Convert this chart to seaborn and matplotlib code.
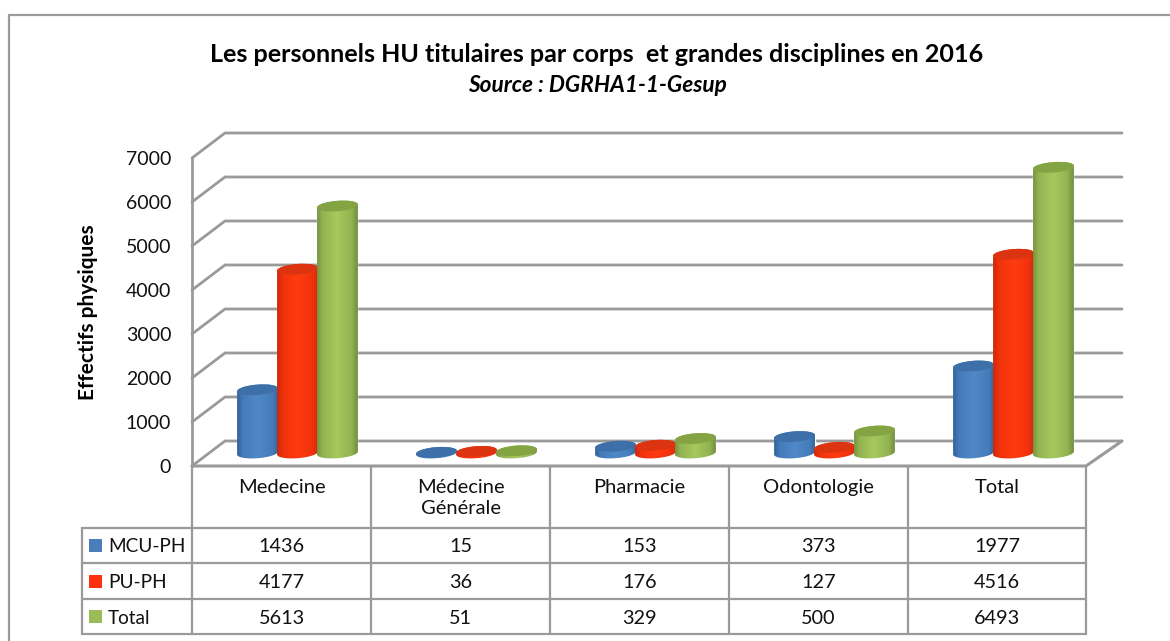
import numpy as np
import matplotlib
matplotlib.use("Agg")
import matplotlib.pyplot as plt
from matplotlib.colors import LinearSegmentedColormap
from matplotlib.patches import Ellipse, Polygon, Rectangle
import pandas as pd
import seaborn as sns

# Valeurs du graphique
categories = ['Medecine', 'Médecine\nGénérale', 'Pharmacie', 'Odontologie', 'Total']
series_names = ['MCU-PH', 'PU-PH', 'Total']
mcu_ph = [1436, 15, 153, 373, 1977]
pu_ph = [4177, 36, 176, 127, 4516]
total = [5613, 51, 329, 500, 6493]
y_ticks = [0, 1000, 2000, 3000, 4000, 5000, 6000, 7000]

title_line1 = 'Les personnels HU titulaires par corps  et grandes disciplines en 2016'
title_line2 = 'Source : DGRHA1-1-Gesup'
y_label = 'Effectifs physiques'

swatch = ['#4A7EBB', '#FF3010', '#9BBB59']
shades = [('#33639B', '#5088C8', '#457BB8', '#3D6FA8'),
          ('#CC2A0A', '#FF3C10', '#F0320C', '#DC3410'),
          ('#728F3E', '#A6C95E', '#92B250', '#84A444')]
line_col = '#9A9A9A'

sns.set_theme(style="white")
plt.rcParams['font.family'] = ['Lato', 'DejaVu Sans']

W, H = 1170, 641
fig = plt.figure(figsize=(W / 100, H / 100), dpi=100, facecolor='white')


def box(x0, y_top, x1, y_bot):
    return [x0 / W, 1 - y_bot / H, (x1 - x0) / W, (y_bot - y_top) / H]


# Mur et plancher : axe de devant, lignes en biais vers le fond
wall = fig.add_axes(box(192, 158, 1086, 466))
wall.set_xlim(192, 1086)
wall.set_ylim(0, 7000)
wall.patch.set_alpha(0)
for s in ['top', 'right', 'bottom']:
    wall.spines[s].set_visible(False)
wall.spines['left'].set_color(line_col)
wall.spines['left'].set_linewidth(2)
wall.set_xticks([])
wall.set_yticks(y_ticks)
wall.tick_params(axis='y', length=0, pad=15, labelsize=14, labelcolor='#111111')
wall.set_ylabel(y_label, fontsize=15, fontweight='bold', color='black', labelpad=0)
wall.yaxis.set_label_coords(-0.105, 0.5)

depth = 25 / 44 * 1000  # 25 px de profondeur, 44 px pour 1000
for t in y_ticks:
    wall.plot([192, 225, 1122], [t, t + depth, t + depth], color=line_col, lw=2,
              clip_on=False, solid_joinstyle='miter', zorder=1)
wall.plot([192, 1086, 1122], [0, 0, depth], color=line_col, lw=2.2, clip_on=False, zorder=1)

# Barres : seaborn, puis habillage en cylindres
df = pd.DataFrame({'categorie': categories * 3,
                   'serie': np.repeat(series_names, len(categories)),
                   'valeur': mcu_ph + pu_ph + total})
ax = fig.add_axes(box(208, 145, 1103, 453))
sns.barplot(data=df, x='categorie', y='valeur', hue='serie', hue_order=series_names,
            order=categories, palette=swatch, width=0.67, gap=0, legend=False, ax=ax)
ax.set_xlim(-0.5, 4.5)
ax.set_ylim(0, 7000)
ax.axis('off')

# Calque en pixels pour les ellipses et le tableau
px = fig.add_axes([0, 0, 1, 1])
px.set_xlim(0, W)
px.set_ylim(H, 0)
px.axis('off')
px.patch.set_alpha(0)

fig.canvas.draw()
tilt = -4.5
for bars, (dark, bright, base_mid, top_col) in zip(ax.containers, shades):
    cmap = LinearSegmentedColormap.from_list('cyl', [(0, dark), (0.14, base_mid), (0.5, bright),
                                                     (0.86, base_mid), (1, dark)])
    for bar in bars:
        (x0, yb), (x1, yt) = ax.transData.transform([(bar.get_x(), 0),
                                                     (bar.get_x() + bar.get_width(), bar.get_height())])
        yb, yt = H - yb, H - yt
        cx, a, b = (x0 + x1) / 2, (x1 - x0) / 2 + 0.5, 5.2
        t = np.linspace(0, np.pi, 40)
        rad = np.radians(tilt)
        ex = a * np.cos(t)
        ey = b * np.sin(t)
        low_x = cx + ex * np.cos(rad) - ey * np.sin(rad)
        low_y = yb + ex * np.sin(rad) + ey * np.cos(rad)
        top_x = cx - ex * np.cos(rad) + ey * np.sin(rad)
        top_y = yt - ex * np.sin(rad) - ey * np.cos(rad)
        outline = np.column_stack([np.r_[low_x, top_x], np.r_[low_y, top_y]])
        body = Polygon(outline, closed=True, facecolor='none', edgecolor='none', zorder=3)
        px.add_patch(body)
        img = px.imshow(np.linspace(0, 1, 64)[None, :], cmap=cmap, aspect='auto', zorder=3,
                        extent=(x0 - 1, x1 + 1, yb + b + 2, yt - b - 2), interpolation='bilinear')
        img.set_clip_path(body)
        px.add_patch(Ellipse((cx, yt), 2 * a, 2 * b, angle=tilt, facecolor=top_col,
                             edgecolor='none', zorder=3))
px.set_xlim(0, W)
px.set_ylim(H, 0)
px.set_aspect('auto')

# Tableau de données
col_x = [192, 371, 550, 729, 908, 1086]
row_y = [466, 528, 563, 599, 634]
for x in col_x:
    px.plot([x, x], [row_y[0], row_y[-1]], color=line_col, lw=1.6, zorder=2)
px.plot([82, 82], [row_y[1], row_y[-1]], color=line_col, lw=1.6, zorder=2)
for y in row_y[1:]:
    px.plot([82, col_x[-1]], [y, y], color=line_col, lw=1.6, zorder=2)

for i, name in enumerate(categories):
    px.text((col_x[i] + col_x[i + 1]) / 2, 479, name, ha='center', va='top', fontsize=14.5,
            color='#111111', linespacing=1.3)

for r, (name, values) in enumerate(zip(series_names, [mcu_ph, pu_ph, total])):
    yc = (row_y[r + 1] + row_y[r + 2]) / 2
    px.add_patch(Rectangle((89, yc - 6.5), 13, 13, facecolor=swatch[r], edgecolor='none', zorder=2))
    px.text(108, yc, name, ha='left', va='center_baseline', fontsize=13.7, color='#111111')
    for i, v in enumerate(values):
        px.text((col_x[i] + col_x[i + 1]) / 2, yc, str(v), ha='center', va='center_baseline',
                fontsize=14.3, color='#111111')

# Titre
px.text(597, 54, title_line1, ha='center', va='center', fontsize=18.1, fontweight='bold', color='black')
px.text(597, 86, title_line2, ha='center', va='center', fontsize=16.3, fontweight='bold',
        fontstyle='italic', color='black')

# Cadre coupé à droite et en bas
px.plot([8.5, 8.5, W], [H, 15, 15], color=line_col, lw=1.6, zorder=1)

fig.savefig('out.png', dpi=100)
